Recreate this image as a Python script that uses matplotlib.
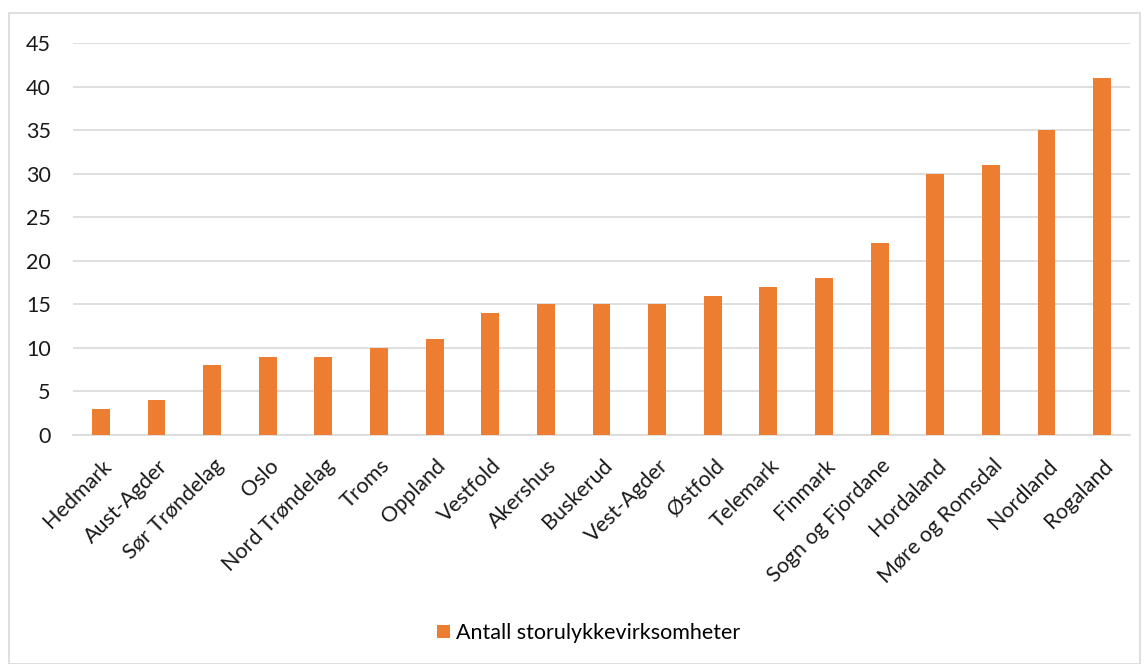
import matplotlib.pyplot as plt
import matplotlib.patches as mpatches
import matplotlib.transforms as mtransforms

fylker = ['Hedmark', 'Aust-Agder', 'Sør Trøndelag', 'Oslo', 'Nord Trøndelag', 'Troms',
          'Oppland', 'Vestfold', 'Akershus', 'Buskerud', 'Vest-Agder', 'Østfold',
          'Telemark', 'Finmark', 'Sogn og Fjordane', 'Hordaland', 'Møre og Romsdal',
          'Nordland', 'Rogaland']
antall = [3, 4, 8, 9, 9, 10, 11, 14, 15, 15, 15, 16, 17, 18, 22, 30, 31, 35, 41]
yticks = [0, 5, 10, 15, 20, 25, 30, 35, 40, 45]

plt.rcParams['font.family'] = ['Lato', 'DejaVu Sans']

fig = plt.figure(figsize=(11.47, 6.64), dpi=100)
ax = fig.add_axes([73/1147, 1-435/664, (1130-73)/1147, (435-43)/664])

# chart border
fig.patches.append(mpatches.Rectangle((9/1147, 0), 1131/1147, 651/664, transform=fig.transFigure,
                                      fill=False, edgecolor='#d9d9d9', linewidth=1.2))

x = range(len(fylker))
ax.bar(x, antall, width=0.32, color='#ED7D31', zorder=3, label='Antall storulykkevirksomheter')

ax.set_ylim(0, 45)
ax.set_xlim(-0.5, len(fylker) - 0.5)
ax.set_yticks(yticks)
ax.yaxis.grid(True, color='#d9d9d9', linewidth=1.2, zorder=0)
ax.tick_params(axis='y', length=0, pad=16, labelsize=15.5, labelcolor='#1a1a1a')
ax.tick_params(axis='x', length=0, pad=20, labelsize=15.5, labelcolor='#1a1a1a')
ax.set_xticks(list(x))
ax.set_xticklabels(fylker, rotation=45, ha='right', va='center', rotation_mode='anchor')
shift = mtransforms.ScaledTranslation(8/100, 0, fig.dpi_scale_trans)
for lbl in ax.get_xticklabels():
    lbl.set_transform(lbl.get_transform() + shift)
for s in ['top', 'right', 'left']:
    ax.spines[s].set_visible(False)
ax.spines['bottom'].set_color('#d9d9d9')
ax.spines['bottom'].set_linewidth(1.2)

fig.legend(loc='center', bbox_to_anchor=(0.513, 1-633/664), frameon=False, fontsize=15.5,
           handlelength=0.6, handleheight=0.6, handletextpad=0.3)

fig.savefig('out.png', dpi=100)
